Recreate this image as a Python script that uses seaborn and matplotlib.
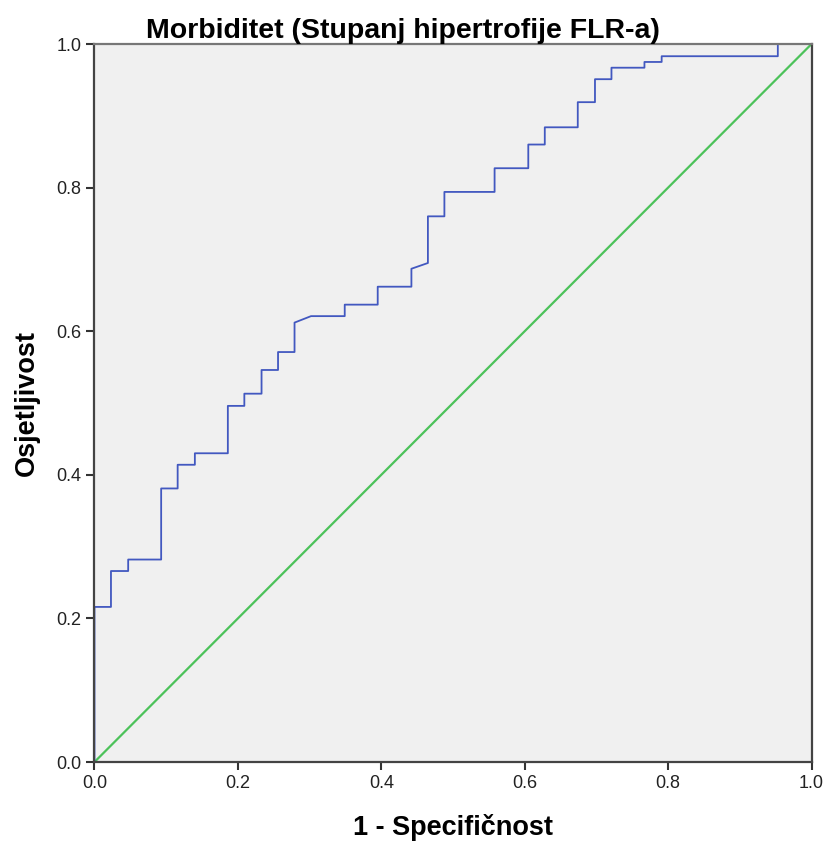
import matplotlib
matplotlib.use("Agg")
import matplotlib.pyplot as plt
import seaborn as sns
from matplotlib.ticker import FormatStrFormatter

# ROC curve (1 - specificity, sensitivity)
fpr = [0.0, 0.0, 0.023, 0.023, 0.047, 0.047, 0.093, 0.093, 0.116, 0.116,
       0.140, 0.140, 0.186, 0.186, 0.209, 0.209, 0.233, 0.233, 0.256, 0.256,
       0.279, 0.279, 0.302, 0.349, 0.349, 0.395, 0.395, 0.442, 0.442, 0.465,
       0.465, 0.488, 0.488, 0.558, 0.558, 0.605, 0.605, 0.628, 0.628, 0.674,
       0.674, 0.698, 0.698, 0.721, 0.721, 0.767, 0.767, 0.791, 0.791, 0.953,
       0.953, 1.0]
tpr = [0.0, 0.216, 0.216, 0.266, 0.266, 0.282, 0.282, 0.381, 0.381, 0.414,
       0.414, 0.430, 0.430, 0.496, 0.496, 0.513, 0.513, 0.546, 0.546, 0.571,
       0.571, 0.612, 0.621, 0.621, 0.637, 0.637, 0.662, 0.662, 0.687, 0.695,
       0.760, 0.760, 0.794, 0.794, 0.827, 0.827, 0.860, 0.860, 0.884, 0.884,
       0.919, 0.919, 0.951, 0.951, 0.967, 0.967, 0.975, 0.975, 0.983, 0.983,
       1.0, 1.0]
ref_line = [0.0, 1.0]
ticks = [0.0, 0.2, 0.4, 0.6, 0.8, 1.0]

sns.set_style("ticks")
plt.rcParams["font.family"] = ["Liberation Sans Narrow", "Liberation Sans", "DejaVu Sans"]

fig = plt.figure(figsize=(8.28, 8.48), dpi=100)
ax = fig.add_axes([0.1141, 0.1014, 0.8660, 0.8467])
ax.set_facecolor("#f0f0f0")

sns.lineplot(x=ref_line, y=ref_line, ax=ax, color="#4cc25a", linewidth=1.6,
             sort=False, estimator=None)
sns.lineplot(x=fpr, y=tpr, ax=ax, color="#4258c0", linewidth=1.3,
             sort=False, estimator=None)

ax.set_xlim(0, 1)
ax.set_ylim(0, 1)
ax.set_xticks(ticks)
ax.set_yticks(ticks)
ax.xaxis.set_major_formatter(FormatStrFormatter("%.1f"))
ax.yaxis.set_major_formatter(FormatStrFormatter("%.1f"))
ax.tick_params(axis="both", labelsize=13, length=6, width=1.5, color="#333333",
               labelcolor="#222222")

for side in ["left", "bottom", "top", "right"]:
    ax.spines[side].set_visible(True)
    ax.spines[side].set_linewidth(1.6)
    ax.spines[side].set_color("#444444")
ax.spines["top"].set_color("#777777")

ax.set_title("Morbiditet (Stupanj hipertrofije FLR-a)", fontsize=20.5,
             fontweight="bold", pad=4, x=0.43, color="black")
ax.set_xlabel("1 - Specifičnost", fontsize=19.5, fontweight="bold", labelpad=16,
              color="black")
ax.set_ylabel("Osjetljivost", fontsize=19.5, fontweight="bold", labelpad=12,
              color="black")

fig.savefig("out.png", dpi=100)
